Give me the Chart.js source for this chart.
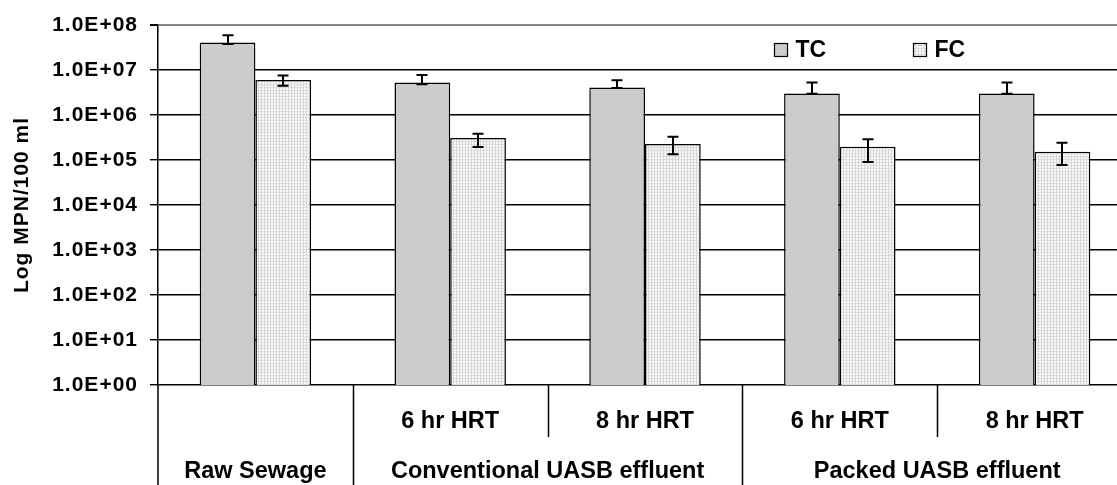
<!DOCTYPE html>
<html>
<head>
<meta charset="utf-8">
<script src="https://cdn.jsdelivr.net/npm/chart.js@4.4.0/dist/chart.umd.min.js"></script>
<style>
html, body { margin: 0; padding: 0; background: #fff; overflow: hidden; }
#wrap { position: absolute; left: 0; top: 0; width: 1134px; height: 490px; }
</style>
</head>
<body>
<div id="wrap"><canvas id="chartgraph"></canvas></div>
<script>
var categories = ['Raw Sewage', 'Conventional 6 hr', 'Conventional 8 hr', 'Packed 6 hr', 'Packed 8 hr'];
var subLabels = ['', '6 hr HRT', '8 hr HRT', '6 hr HRT', '8 hr HRT'];
var groupLabels = ['Raw Sewage', 'Conventional UASB effluent', 'Packed UASB effluent'];
var groupStart = [0, 1, 3];
var groupEnd = [0, 2, 4];

var tcValues = [4.07e7, 5.28e6, 4.09e6, 3.01e6, 3.01e6];
var tcErrHigh = [5.9e7, 7.7e6, 5.9e6, 5.3e6, 5.3e6];
var tcErrLow = [3.8e7, 4.8e6, 4.0e6, 2.95e6, 2.95e6];

var fcValues = [6.0e6, 3.1e5, 2.26e5, 1.97e5, 1.53e5];
var fcErrHigh = [7.55e6, 3.83e5, 3.29e5, 2.88e5, 2.42e5];
var fcErrLow = [4.44e6, 1.94e5, 1.34e5, 9.0e4, 7.75e4];

var yTickValues = [1, 1e1, 1e2, 1e3, 1e4, 1e5, 1e6, 1e7, 1e8];
var yTickLabels = ['1.0E+00', '1.0E+01', '1.0E+02', '1.0E+03', '1.0E+04', '1.0E+05', '1.0E+06', '1.0E+07', '1.0E+08'];

var fontFamily = '"Liberation Sans", Arial, sans-serif';

// dotted fill for the FC bars
function makeDots() {
  var c = document.createElement('canvas');
  c.width = 3; c.height = 3;
  var g = c.getContext('2d');
  g.fillStyle = '#f7f7f7';
  g.fillRect(0, 0, 3, 3);
  g.fillStyle = '#d6d6d6';
  g.fillRect(0, 0, 1, 3);
  g.fillStyle = '#e0e0e0';
  g.fillRect(1, 0, 2, 1);
  return g.createPattern(c, 'repeat');
}
var fcFill = makeDots();

// the axis labels in the original are set a bit wide
var wideTicks = {
  id: 'wideTicks',
  beforeDraw: function(chart) { chart.ctx.letterSpacing = '1px'; },
  beforeDatasetsDraw: function(chart) { chart.ctx.letterSpacing = '0px'; }
};

var errorBars = {
  id: 'errorBars',
  afterDatasetsDraw: function(chart) {
    var ctx = chart.ctx;
    var y = chart.scales.y;
    var lists = [[tcErrLow, tcErrHigh], [fcErrLow, fcErrHigh]];
    ctx.save();
    ctx.strokeStyle = '#000';
    ctx.lineWidth = 2;
    chart.data.datasets.forEach(function(ds, di) {
      var meta = chart.getDatasetMeta(di);
      meta.data.forEach(function(bar, i) {
        var x = Math.round(bar.x);
        var y1 = y.getPixelForValue(lists[di][1][i]);
        var y2 = y.getPixelForValue(lists[di][0][i]);
        ctx.beginPath();
        ctx.moveTo(x, y1); ctx.lineTo(x, y2);
        ctx.moveTo(x - 5.5, y1); ctx.lineTo(x + 5.5, y1);
        ctx.moveTo(x - 5.5, y2); ctx.lineTo(x + 5.5, y2);
        ctx.stroke();
      });
    });
    ctx.restore();
  }
};

var categoryTable = {
  id: 'categoryTable',
  afterDraw: function(chart) {
    var ctx = chart.ctx;
    var area = chart.chartArea;
    var xs = chart.scales.x;
    var h = chart.height;
    ctx.save();
    ctx.letterSpacing = '0px';
    ctx.strokeStyle = '#000';
    ctx.lineWidth = 1.5;
    ctx.beginPath();
    ctx.moveTo(area.left, area.bottom);
    ctx.lineTo(area.left, h);
    for (var i = 0; i < categories.length - 1; i++) {
      var bx = Math.round((xs.getPixelForValue(i) + xs.getPixelForValue(i + 1)) / 2) + 0.5;
      var full = groupStart.indexOf(i + 1) >= 0;
      ctx.moveTo(bx, area.bottom);
      ctx.lineTo(bx, full ? h : area.bottom + 52);
    }
    ctx.stroke();

    ctx.fillStyle = '#000';
    ctx.font = 'bold 23.5px ' + fontFamily;
    ctx.textAlign = 'center';
    ctx.textBaseline = 'middle';
    subLabels.forEach(function(t, i) {
      if (t) ctx.fillText(t, xs.getPixelForValue(i), area.bottom + 37);
    });
    groupLabels.forEach(function(t, g) {
      var cx = (xs.getPixelForValue(groupStart[g]) + xs.getPixelForValue(groupEnd[g])) / 2;
      ctx.fillText(t, cx, area.bottom + 87);
    });
    ctx.restore();
  }
};

var insideLegend = {
  id: 'insideLegend',
  afterDraw: function(chart) {
    var ctx = chart.ctx;
    var area = chart.chartArea;
    var offsets = [616, 755];
    ctx.save();
    ctx.letterSpacing = '0px';
    ctx.font = 'bold 23px ' + fontFamily;
    ctx.textBaseline = 'middle';
    ctx.textAlign = 'left';
    chart.data.datasets.forEach(function(ds, i) {
      var bx = area.left + offsets[i] + 0.5;
      var by = area.top + 18.5;
      ctx.fillStyle = ds.backgroundColor;
      ctx.fillRect(bx, by, 13, 13);
      ctx.strokeStyle = '#000';
      ctx.lineWidth = 1.2;
      ctx.strokeRect(bx, by, 13, 13);
      ctx.fillStyle = '#000';
      ctx.fillText(ds.label, bx + 21, area.top + 25.5);
    });
    ctx.restore();
  }
};

var ctx = document.getElementById('chartgraph').getContext('2d');

var chart = new Chart(ctx, {
  type: 'bar',
  data: {
    labels: categories,
    datasets: [{
      label: 'TC',
      data: tcValues,
      backgroundColor: '#cccccc',
      borderColor: '#000',
      borderWidth: 1.5,
      barPercentage: 1,
      categoryPercentage: 0.572
    }, {
      label: 'FC',
      data: fcValues,
      backgroundColor: fcFill,
      borderColor: '#000',
      borderWidth: 1.5,
      barPercentage: 1,
      categoryPercentage: 0.572
    }]
  },
  options: {
    responsive: true,
    maintainAspectRatio: false,
    animation: false,
    layout: { padding: { top: 25, bottom: 105, left: 0, right: 2 } },
    plugins: {
      legend: { display: false },
      tooltip: { enabled: false }
    },
    scales: {
      x: { display: false },
      y: {
        type: 'logarithmic',
        min: 1,
        max: 1e8,
        afterBuildTicks: function(scale) {
          scale.ticks = yTickValues.map(function(v) { return { value: v }; });
        },
        afterFit: function(scale) { scale.width = 158; },
        ticks: {
          color: '#000',
          padding: 12,
          font: { family: fontFamily, size: 21, weight: 'bold' },
          callback: function(value, index) { return yTickLabels[index]; }
        },
        grid: {
          color: function(c) { return c.tick && c.tick.value === 1e8 ? '#858585' : '#000'; },
          lineWidth: function(c) { return c.tick && c.tick.value === 1e8 ? 2 : 1.4; },
          tickColor: '#000',
          tickLength: 8
        },
        border: { display: true, color: '#000', width: 1.5 },
        title: {
          display: true,
          text: 'Log MPN/100 ml',
          color: '#000',
          padding: { top: 10, bottom: 0 },
          font: { family: fontFamily, size: 21, weight: 'bold' }
        }
      }
    }
  },
  plugins: [wideTicks, errorBars, categoryTable, insideLegend]
});
</script>
</body>
</html>
